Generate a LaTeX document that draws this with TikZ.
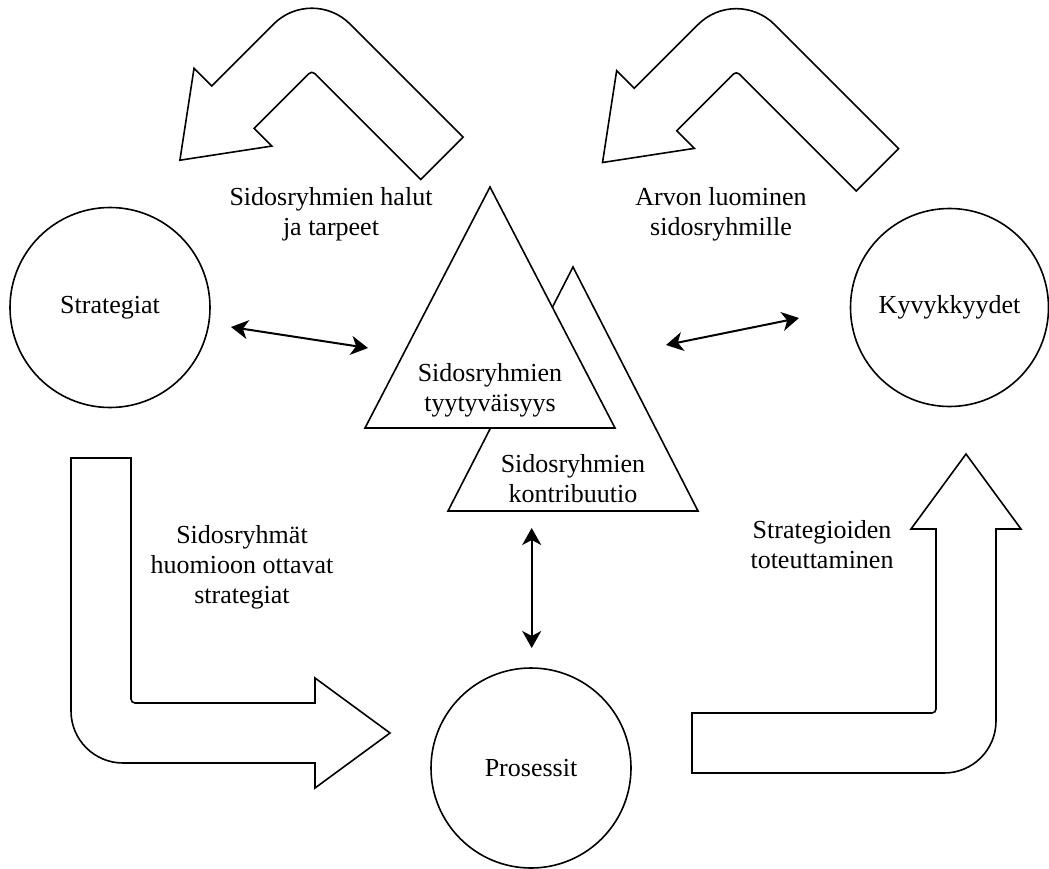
\documentclass[tikz,border=0pt]{standalone}
\usepackage{fontspec}
\setmainfont{Liberation Serif}
\usetikzlibrary{arrows.meta}

% Bent block arrow in a local frame: outer corner at the origin,
% long arm of length #1 along x, short arm of length #2 along y,
% head after the short arm, outer corner radius #3, arm width 60.
\newcommand{\bentarrowpath}[3]{%
  (#1,0) -- (#1,60) -- (64,60) .. controls (61.8,60) and (60,61.8) .. (60,64)
  -- (60,#2) -- (85,#2) -- (30,#2+75) -- (-25,#2) -- (0,#2) -- (0,#3)
  .. controls (0,0.4477*#3) and (0.4477*#3,0) .. (#3,0) -- cycle}

\begin{document}
\begin{tikzpicture}[x=1pt,y=-1pt,
  lbl/.style={font=\fontsize{26}{30}\selectfont, align=center, inner sep=0pt},
  blockarrow/.style={draw=black, fill=white, line width=1.6pt, line join=miter},
  ring/.style={circle, draw=black, line width=1.6pt, minimum size=200pt, inner sep=0pt,
    font=\fontsize{26}{30}\selectfont},
  tri/.style={draw=black, fill=white, line width=1.6pt},
  dbl/.style={{Stealth[length=17pt,width=19pt,inset=5pt]}-{Stealth[length=17pt,width=19pt,inset=5pt]}, line width=2pt}]

\fill[white] (0,0) rectangle (1049,869);
\useasboundingbox (0,0) rectangle (1049,869);

% curved arrows at the top
\begin{scope}[shift={(311.85,-14.15)}, x={(0.7071pt,-0.7071pt)}, y={(-0.7071pt,-0.7071pt)}]
  \draw[blockarrow] \bentarrowpath{214}{141.6}{54};
\end{scope}
\begin{scope}[shift={(736.3,-13.7)}, x={(0.7071pt,-0.7071pt)}, y={(-0.7071pt,-0.7071pt)}]
  \draw[blockarrow] \bentarrowpath{229.5}{144.2}{54};
\end{scope}

% L-shaped arrows at the bottom
\begin{scope}[shift={(71,763)}, x={(0pt,1pt)}, y={(1pt,0pt)}]
  \draw[blockarrow] \bentarrowpath{305}{244}{52};
\end{scope}
\begin{scope}[shift={(996,773)}, x={(-1pt,0pt)}, y={(0pt,1pt)}]
  \draw[blockarrow] \bentarrowpath{304}{244}{52};
\end{scope}

% the three circles
\node[ring] (strat) at (110,307.5) {Strategiat};
\node[ring, minimum size=198pt] (kyvy) at (949.5,307.5) {Kyvykkyydet};
\node[ring] (pros) at (531,768) {Prosessit};

% overlapping triangles
\draw[tri] (573,267) -- (698,511) -- (448,511) -- cycle;
\draw[tri] (490,187) -- (615,428) -- (365,428) -- cycle;
\node[lbl] (tyyt) at (490,390) {Sidosryhmien\\tyytyväisyys};
\node[lbl] (kontr) at (573,479) {Sidosryhmien\\kontribuutio};

% labels of the flows
\node[lbl] (halut) at (331,214) {Sidosryhmien halut\\ja tarpeet};
\node[lbl] (arvon) at (721,214) {Arvon luominen\\sidosryhmille};
\node[lbl] (huom) at (242,567) {Sidosryhmät\\huomioon ottavat\\strategiat};
\node[lbl] (tot) at (822,545) {Strategioiden\\toteuttaminen};

% two-way links
\coordinate (sA) at (231,327);
\coordinate (sB) at (368,348);
\coordinate (kA) at (666,345);
\coordinate (kB) at (799,318);
\coordinate (pA) at (531.7,528);
\coordinate (pB) at (531.7,648);
\draw[dbl] (sA) -- (sB);
\draw[dbl] (kA) -- (kB);
\draw[dbl] (pA) -- (pB);
\end{tikzpicture}
\end{document}
